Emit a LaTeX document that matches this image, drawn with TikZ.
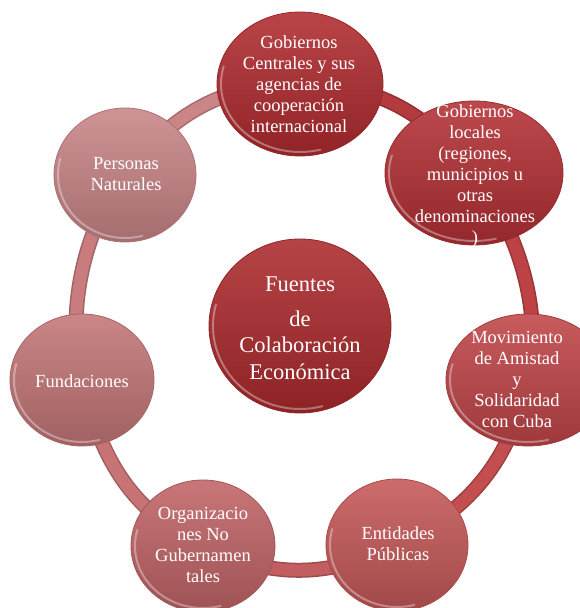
\documentclass[tikz,border=0pt]{standalone}
\usepackage{fontspec}
\setmainfont{Liberation Serif}
\usetikzlibrary{shapes.geometric,backgrounds}
\definecolor{topc}{HTML}{B02B2F}
\definecolor{locc}{HTML}{B33035}
\definecolor{cenc}{HTML}{AC2A2D}
\definecolor{movc}{HTML}{C04548}
\definecolor{entc}{HTML}{C65858}
\definecolor{orgc}{HTML}{C16466}
\definecolor{fundc}{HTML}{C47677}
\definecolor{persc}{HTML}{C98587}
\definecolor{ra}{HTML}{B33A3D}
\definecolor{rb}{HTML}{BD4245}
\definecolor{rc}{HTML}{C24E50}
\definecolor{rd}{HTML}{C25E5F}
\definecolor{re}{HTML}{C87475}
\definecolor{rf}{HTML}{C87C7E}
\definecolor{rg}{HTML}{CB8587}
\tikzset{
  bub/.style={ellipse, inner sep=0pt, top color=#1!88!white, bottom color=#1!82!black,
    draw=#1!85!black, line width=0.8pt},
  txt/.style={text=white, align=center, inner sep=0pt, font=\fontsize{18.5}{21}\selectfont},
  bigtxt/.style={text=white, align=center, inner sep=0pt, font=\fontsize{22.5}{26.5}\selectfont},
  ringseg/.style={draw=#1!80!black, double=#1, double distance=12pt, line width=1.5pt},
  gloss/.style={draw=white, draw opacity=0.35, line width=2pt, line cap=round}
}
\newcommand{\glossarc}[3]{%
  \draw[gloss] (#1.center) ++(165:{#2-4} and {#3-4})
    arc[start angle=165, end angle=285, x radius={#2-4}, y radius={#3-4}];}
\begin{document}
\begin{tikzpicture}[x=1pt,y=1pt]
\useasboundingbox (0,0) rectangle (580,608);
% bubbles
\node[bub=topc, minimum width=166pt, minimum height=144pt] (top) at (300,524) {};
\node[bub=locc, minimum width=178pt, minimum height=144pt] (loc) at (474,435) {};
\node[bub=movc, minimum width=164pt, minimum height=132pt] (mov) at (528,228) {};
\node[bub=entc, minimum width=142pt, minimum height=132pt] (ent) at (397,63) {};
\node[bub=orgc, minimum width=144pt, minimum height=132pt] (org) at (203,62) {};
\node[bub=fundc, minimum width=144pt, minimum height=132pt] (fund) at (82,228) {};
\node[bub=persc, minimum width=142pt, minimum height=134pt] (pers) at (125,433) {};
\node[bub=cenc, minimum width=182pt, minimum height=174pt] (cen) at (300,282) {};
\glossarc{top}{83}{72}
\glossarc{loc}{89}{72}
\glossarc{mov}{82}{66}
\glossarc{ent}{71}{66}
\glossarc{org}{72}{66}
\glossarc{fund}{72}{66}
\glossarc{pers}{71}{67}
\glossarc{cen}{91}{87}
% texts
\node[txt] (topt) at (299,524) {Gobiernos\\Centrales y sus\\agencias de\\cooperación\\internacional};
\node[txt] (loct) at (475,432) {Gobiernos\\locales\\(regiones,\\municipios u\\otras\\denominaciones\\)};
\node[txt] (movt) at (517,229) {Movimiento\\de Amistad\\y\\Solidaridad\\con Cuba};
\node[txt] (entt) at (398,64) {Entidades\\Públicas};
\node[txt] (orgt) at (203,63) {Organizacio\\nes No\\Gubernamen\\tales};
\node[txt] (fundt) at (82,227) {Fundaciones};
\node[txt] (perst) at (126,434) {Personas\\Naturales};
\node[bigtxt] (cent) at (300,280) {Fuentes\\[8.5pt]de\\Colaboración\\Económica};
% ring
\begin{pgfonlayer}{background}
\fill[white] (0,0) rectangle (580,608);
\draw[ringseg=ra] (top.center) to[out=0,in=127.9] (loc.center);
\draw[ringseg=rb] (loc.center) to[out=-52.1,in=77.3,looseness=0.85] (mov.center);
\draw[ringseg=rc] (mov.center) to[out=-102.7,in=25.9] (ent.center);
\draw[ringseg=rd] (ent.center) to[out=205.9,in=-25.7] (org.center);
\draw[ringseg=re] (org.center) to[out=154.3,in=-76.7] (fund.center);
\draw[ringseg=rf] (fund.center) to[out=103.3,in=232.6,looseness=0.85] (pers.center);
\draw[ringseg=rg] (pers.center) to[out=52.6,in=180] (top.center);
\end{pgfonlayer}
\end{tikzpicture}
\end{document}
